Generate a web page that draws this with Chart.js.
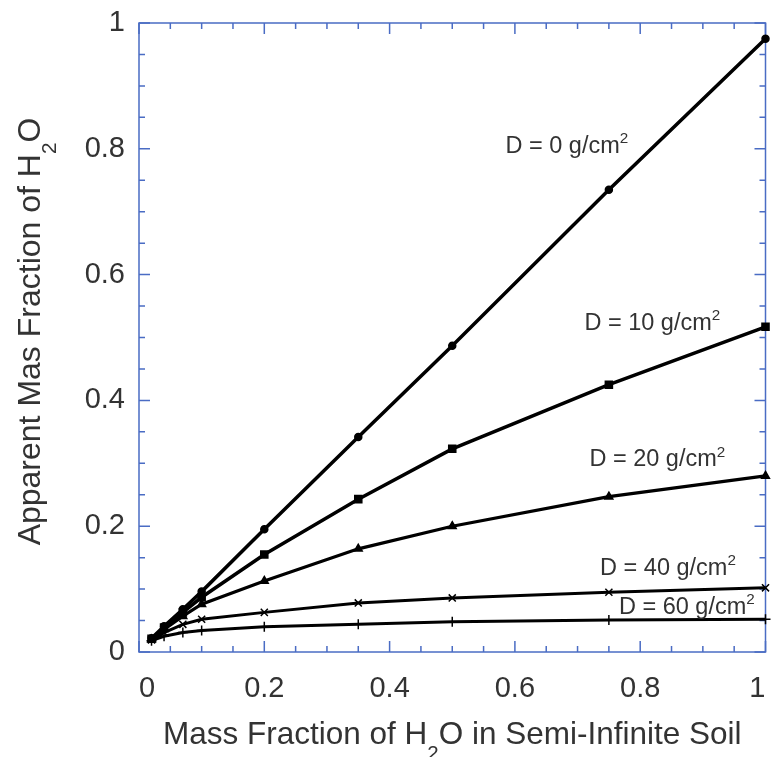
<!DOCTYPE html>
<html><head><meta charset="utf-8">
<script src="https://cdn.jsdelivr.net/npm/chart.js@4"></script>
<style>html,body{margin:0;padding:0;background:#fff}canvas{display:block}</style>
</head><body>
<canvas id="c" width="772" height="757"></canvas>
<script>
// ---- data ----
const massFraction = [0.02, 0.04, 0.07, 0.1, 0.2, 0.35, 0.5, 0.75, 1.0];
const apparentD0  = [0.022, 0.041, 0.068, 0.096, 0.195, 0.342, 0.487, 0.735, 0.975];
const apparentD10 = [0.021, 0.039, 0.063, 0.087, 0.155, 0.243, 0.323, 0.425, 0.517];
const apparentD20 = [0.020, 0.036, 0.057, 0.076, 0.113, 0.164, 0.200, 0.247, 0.280];
const apparentD40 = [0.019, 0.031, 0.044, 0.052, 0.063, 0.078, 0.086, 0.095, 0.102];
const apparentD60 = [0.018, 0.025, 0.031, 0.034, 0.040, 0.044, 0.048, 0.051, 0.052];
const depthValues = [0, 10, 20, 40, 60];
const labelAnchorX = [0.585, 0.711, 0.719, 0.736, 0.766];
const labelAnchorY = [0.794, 0.512, 0.295, 0.122, 0.060];
const axisMin = 0, axisMax = 1, majorStep = 0.2, minorStep = 0.05;

const seriesValues = [apparentD0, apparentD10, apparentD20, apparentD40, apparentD60];
const pointStyles = ['circle', 'rect', 'triangle', 'crossRot', 'cross'];
const pointRadii = [3.5, 5, 4.5, 5, 5];
const lineWidths = [3.5, 3.5, 3.2, 3, 3];

const FONT = '"Liberation Sans", Arial, Helvetica, sans-serif';
const TEXT = '#333333';
const FRAME = '#4a6cc4';

function drawRich(ctx, segs, x, y, size, align) {
  const w = segs.map(s => {
    const fs = s.m ? size * 0.65 : size;
    ctx.font = fs + 'px ' + FONT;
    return ctx.measureText(s.t).width;
  });
  const total = w.reduce((a, b) => a + b, 0);
  let cx = align === 'center' ? x - total / 2 : x;
  segs.forEach((s, i) => {
    const fs = s.m ? size * 0.65 : size;
    ctx.font = fs + 'px ' + FONT;
    let dy = 0;
    if (s.m === 'sub') dy = size * 0.5;
    if (s.m === 'sup') dy = -size * 0.42;
    ctx.fillText(s.t, cx, y + dy);
    cx += w[i];
  });
}

const framePlugin = {
  id: 'frame',
  beforeDatasetsDraw(chart) {
    const { ctx, chartArea: a, scales: { x, y } } = chart;
    ctx.save();
    ctx.strokeStyle = FRAME;
    ctx.lineWidth = 1.5;
    ctx.strokeRect(a.left, a.top, a.right - a.left, a.bottom - a.top);
    const n = Math.round((axisMax - axisMin) / minorStep);
    const perMajor = Math.round(majorStep / minorStep);
    ctx.beginPath();
    for (let i = 0; i <= n; i++) {
      const v = axisMin + i * minorStep;
      const len = i % perMajor === 0 ? 11 : 6;
      const px = x.getPixelForValue(v);
      ctx.moveTo(px, a.bottom); ctx.lineTo(px, a.bottom - len);
      ctx.moveTo(px, a.top); ctx.lineTo(px, a.top + len);
      const py = y.getPixelForValue(v);
      ctx.moveTo(a.left, py); ctx.lineTo(a.left + len, py);
      ctx.moveTo(a.right, py); ctx.lineTo(a.right - len, py);
    }
    ctx.stroke();
    ctx.restore();
  }
};

const textPlugin = {
  id: 'texts',
  afterDraw(chart) {
    const { ctx, chartArea: a, scales: { x, y } } = chart;
    ctx.save();
    ctx.fillStyle = TEXT;
    ctx.textBaseline = 'alphabetic';
    ctx.textAlign = 'left';
    // x title
    drawRich(ctx, [{ t: 'Mass Fraction of H' }, { t: '2', m: 'sub' }, { t: 'O in Semi-Infinite Soil' }],
      (a.left + a.right) / 2, 744, 31.5, 'center');
    // y title
    ctx.save();
    ctx.translate(40, (a.top + a.bottom) / 2 - 6);
    ctx.rotate(-Math.PI / 2);
    drawRich(ctx, [{ t: 'Apparent Mas Fraction of H' }, { t: '2', m: 'sub' }, { t: 'O' }], 0, 0, 32, 'center');
    ctx.restore();
    // curve labels
    depthValues.forEach((d, i) => {
      drawRich(ctx, [{ t: 'D = ' + d + ' g/cm' }, { t: '2', m: 'sup' }],
        x.getPixelForValue(labelAnchorX[i]), y.getPixelForValue(labelAnchorY[i]), 23.5, 'left');
    });
    ctx.restore();
  }
};

const fmt = v => String(+Number(v).toFixed(2));

new Chart(document.getElementById('c'), {
  type: 'line',
  data: {
    datasets: seriesValues.map((vals, i) => ({
      label: 'D = ' + depthValues[i] + ' g/cm2',
      data: massFraction.map((m, j) => ({ x: m, y: vals[j] })),
      borderColor: '#000',
      backgroundColor: '#000',
      borderWidth: lineWidths[i],
      pointStyle: pointStyles[i],
      pointRadius: pointRadii[i],
      pointBorderWidth: 1.5,
      tension: 0,
      clip: 6
    }))
  },
  options: {
    responsive: false,
    animation: false,
    devicePixelRatio: 1,
    layout: { padding: { left: 0, top: 23, right: 6, bottom: 0 } },
    plugins: { legend: { display: false }, tooltip: { enabled: false } },
    scales: {
      x: {
        type: 'linear', min: axisMin, max: axisMax,
        grid: { display: false, drawTicks: false },
        border: { display: false },
        ticks: { stepSize: majorStep, align: 'inner', padding: 20, color: TEXT,
                 font: { family: FONT, size: 29 }, callback: fmt },
        afterFit(s) { s.height = 105; s.paddingLeft = 0; s.paddingRight = 0; }
      },
      y: {
        type: 'linear', min: axisMin, max: axisMax,
        grid: { display: false, drawTicks: false },
        border: { display: false },
        ticks: { stepSize: majorStep, padding: 14, color: TEXT,
                 font: { family: FONT, size: 29 }, callback: fmt },
        afterFit(s) { s.width = 139; s.paddingTop = 0; s.paddingBottom = 0; }
      }
    }
  },
  plugins: [framePlugin, textPlugin]
});
</script>
</body></html>
